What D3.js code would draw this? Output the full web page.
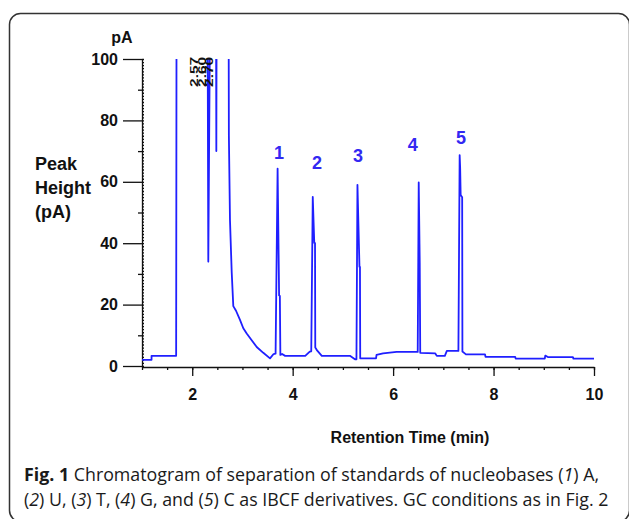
<!DOCTYPE html>
<html lang="en">
<head>
<meta charset="UTF-8">
<title>Chromatogram</title>
<style>
  html, body { margin: 0; padding: 0; background: #fff; }
  svg { display: block; }
  .tick text { font-family: "Liberation Sans", Arial, sans-serif; font-weight: bold; font-size: 16px; fill: #111; }
  .lbl { font-family: "Liberation Sans", Arial, sans-serif; font-weight: bold; fill: #111; }
  .cap { font-family: "Open Sans", "Noto Sans", sans-serif; font-size: 15px; fill: #1a1a1a; }
</style>
</head>
<body>
<div id="chart"></div>
<script src="https://cdnjs.cloudflare.com/ajax/libs/d3/7.8.5/d3.min.js"></script>
<script>
// retention time (min) and signal (pA); 150 = off scale
const rt = [1.00, 1.19, 1.19, 1.68, 1.69, 2.30, 2.32, 2.37, 2.47, 2.48, 2.49, 2.72, 2.73, 2.752, 2.786, 2.818,
            2.872, 2.951, 3.017, 3.085, 3.184, 3.284, 3.415, 3.549, 3.62, 3.66, 3.70, 3.73, 3.745, 3.755,
            3.79, 3.85, 4.25, 4.34, 4.37, 4.40, 4.43, 4.445, 4.45, 4.49, 4.58,
            5.14, 5.24, 5.27, 5.29, 5.33, 5.34, 5.345, 5.66, 5.67, 5.80, 6.07, 6.47,
            6.49, 6.51, 6.53, 6.54, 6.84, 6.87, 7.03, 7.07, 7.28,
            7.30, 7.325, 7.335, 7.345, 7.375, 7.38, 7.45, 7.83, 7.84, 8.43, 8.44, 9.02, 9.03, 9.08, 9.58, 9.59, 10.0];
const pA = [2.0, 2.0, 3.3, 3.3, 150, 150, 34, 150, 150, 70, 150, 150, 75, 47.5, 30.6, 19.5,
            18.0, 15.0, 12.3, 10.6, 8.4, 6.2, 4.3, 2.5, 3.9, 4.0, 64.3, 23.0, 22.8, 3.6,
            3.9, 3.3, 3.3, 4.7, 4.8, 55.1, 40.1, 40.0, 6.0, 5.0, 3.3,
            3.3, 2.2, 2.2, 59.0, 32.3, 32.3, 2.5, 2.5, 3.6, 4.1, 4.6, 4.6,
            4.6, 59.8, 33.6, 4.3, 4.1, 3.3, 3.3, 4.9, 4.9,
            4.9, 68.7, 64.5, 55.7, 55.0, 4.7, 3.8, 3.8, 3.0, 3.0, 2.4, 2.4, 3.4, 2.9, 2.9, 2.4, 2.4];

// numbered peaks and where their numbers sit
const peakNums = ["1", "2", "3", "4", "5"];
const peakNumT = [3.728, 4.485, 5.30, 6.39, 7.35];
const peakNumV = [67.3, 64.1, 66.3, 69.9, 72.2];

// rotated retention-time labels of the solvent peaks
const apexText = ["2.57", "2.60", "2.70"];
const apexT = [2.11, 2.27, 2.42];
const apexV = 90.9;

const xTicks = [2, 4, 6, 8, 10];
const yTicks = [0, 20, 40, 60, 80, 100];

const W = 629, H = 519;
const svg = d3.select("#chart").append("svg").attr("width", W).attr("height", H);

// frame round figure and caption
svg.append("rect")
    .attr("x", 9.5).attr("y", 13.5).attr("width", 620).attr("height", 508)
    .attr("rx", 11).attr("fill", "none").attr("stroke", "#333").attr("stroke-width", 1.5);

const x = d3.scaleLinear().domain([1, 10]).range([142, 594]);
const y = d3.scaleLinear().domain([0, 100]).range([366, 59]);

svg.append("clipPath").attr("id", "plot")
    .append("rect").attr("x", 142).attr("y", y(100)).attr("width", 460).attr("height", y(0) - y(100) + 4);

// minor ticks
svg.append("g").attr("transform", "translate(142,0)")
    .call(d3.axisRight(y).tickValues(d3.range(0, 101, 1)).tickSize(2).tickFormat(""))
    .call(g => g.select(".domain").remove());
svg.append("g").attr("transform", "translate(142,0)")
    .call(d3.axisLeft(y).tickValues(d3.range(10, 100, 20)).tickSize(4).tickFormat(""))
    .call(g => g.select(".domain").remove());
svg.append("g").attr("transform", "translate(0,367)")
    .call(d3.axisBottom(x).tickValues(d3.range(1, 10.01, 0.5)).tickSize(3).tickFormat(""))
    .call(g => g.select(".domain").remove());

// main axes
svg.append("g").attr("transform", "translate(142,0)")
    .call(d3.axisLeft(y).tickValues(yTicks).tickSize(19).tickSizeOuter(0).tickPadding(5));
svg.append("g").attr("transform", "translate(0,367)")
    .call(d3.axisBottom(x).tickValues(xTicks).tickSize(9).tickSizeOuter(0).tickPadding(13));
svg.selectAll(".domain, .tick line").attr("stroke", "#111").attr("stroke-width", 1.3);

// trace
const pts = rt.map((t, i) => [t, pA[i]]);
svg.append("path")
    .datum(pts)
    .attr("clip-path", "url(#plot)")
    .attr("fill", "none")
    .attr("stroke", "#1f1fff")
    .attr("stroke-width", 1.8)
    .attr("stroke-linejoin", "round")
    .attr("d", d3.line().x(d => x(d[0])).y(d => y(d[1])));

// peak numbers
svg.selectAll(".pnum").data(peakNums).enter().append("text")
    .attr("class", "lbl pnum")
    .attr("x", (d, i) => x(peakNumT[i]))
    .attr("y", (d, i) => y(peakNumV[i]))
    .attr("text-anchor", "middle")
    .attr("font-size", 18)
    .style("fill", "#3328f2")
    .text(d => d);

// solvent peak time labels
svg.selectAll(".apex").data(apexText).enter().append("text")
    .attr("class", "lbl apex")
    .attr("transform", (d, i) => `translate(${x(apexT[i])},${y(apexV)}) rotate(-90)`)
    .attr("font-size", 11)
    .attr("font-weight", "normal")
    .attr("textLength", 30)
    .attr("lengthAdjust", "spacingAndGlyphs")
    .text(d => d);

// axis titles
svg.append("text").attr("class", "lbl").attr("x", 122).attr("y", 43)
    .attr("text-anchor", "middle").attr("font-size", 16).text("pA");
const yt = svg.append("text").attr("class", "lbl").attr("font-size", 18);
["Peak", "Height", "(pA)"].forEach((s, i) => {
    yt.append("tspan").attr("x", 35).attr("y", 170 + i * 24).text(s);
});
svg.append("text").attr("class", "lbl").attr("x", 410).attr("y", 443)
    .attr("text-anchor", "middle").attr("font-size", 16).text("Retention Time (min)");

// caption
const c1 = svg.append("text").attr("class", "cap").attr("x", 24).attr("y", 481);
c1.append("tspan").attr("font-weight", "bold").text("Fig. 1");
c1.append("tspan").text(" Chromatogram of separation of standards of nucleobases (");
c1.append("tspan").attr("font-style", "italic").text("1");
c1.append("tspan").text(") A,");

const c2 = svg.append("text").attr("class", "cap").attr("x", 24).attr("y", 506);
[["(", 0], ["2", 1], [") U, (", 0], ["3", 1], [") T, (", 0], ["4", 1], [") G, and (", 0], ["5", 1],
 [") C as IBCF derivatives. GC conditions as in Fig. 2", 0]].forEach(([s, it]) => {
    const sp = c2.append("tspan").text(s);
    if (it) sp.attr("font-style", "italic");
});

// fit caption to the width it takes in the figure
const w2 = c2.node().getComputedTextLength();
const fs = 15 * 585 / w2;
c1.style("font-size", fs + "px");
c2.style("font-size", fs + "px");
</script>
</body>
</html>
